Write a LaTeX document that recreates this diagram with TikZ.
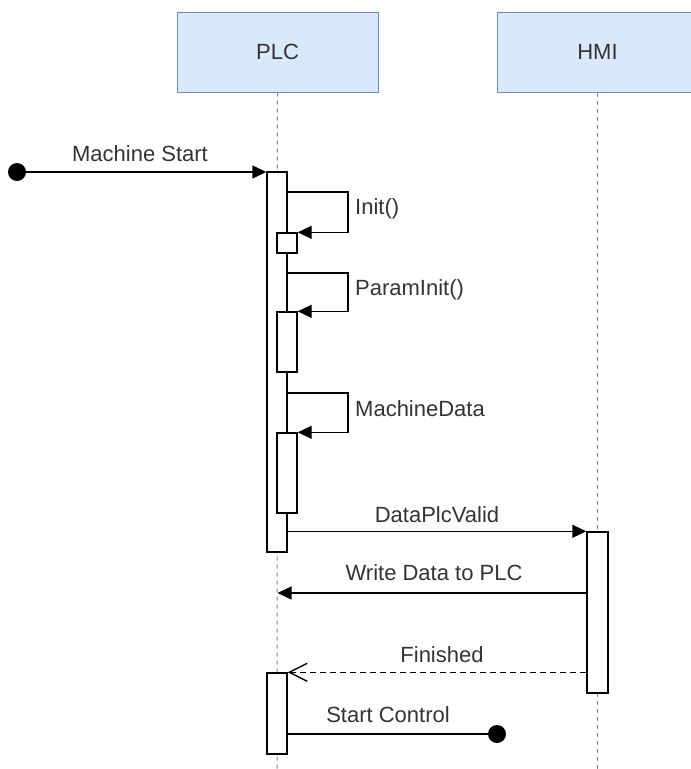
\documentclass[tikz,border=0pt]{standalone}
\usepackage{fontspec}
\setmainfont{Liberation Sans}
\usetikzlibrary{arrows.meta}
\definecolor{boxfill}{HTML}{DAE8FC}
\definecolor{boxline}{HTML}{6C8EBF}
\definecolor{txt}{HTML}{333333}
\definecolor{life}{HTML}{6C8EBF}
\begin{document}
\begin{tikzpicture}[x=1pt,y=-1pt,
  actor/.style={draw=boxline, fill=boxfill, line width=1pt, minimum width=201pt, minimum height=80pt, inner sep=0pt, font=\fontsize{22}{26}\selectfont, text=txt},
  act/.style={draw=black, fill=white, line width=1.4pt, inner sep=0pt, minimum width=20pt},
  lifeline/.style={draw=life, dash pattern=on 4pt off 4pt, line width=1pt},
  msg/.style={draw=black, line width=1.4pt, -{Triangle[length=14pt,width=13pt]}},
  plain/.style={draw=black, line width=1.4pt},
  ret/.style={draw=black, line width=1.4pt, dash pattern=on 6pt off 4pt, -{Straight Barb[length=18pt,width=18pt,line width=1.4pt]}},
  lbl/.style={text=txt, font=\fontsize{22}{26}\selectfont, inner sep=0pt},
  dot/.style={circle, fill=black, minimum size=18pt, inner sep=0pt}]
\useasboundingbox (0,0) rectangle (691,769);
\clip (0,0) rectangle (691,769);

% lifelines
\node[actor] (plc) at (277.5,52) {PLC};
\node[actor] (hmi) at (597.5,52) {HMI};
\coordinate (plcend) at (277,769);
\coordinate (hmiend) at (597.5,769);
\draw[lifeline] (plc.south) -- (plcend);
\draw[lifeline] (hmi.south) -- (hmiend);

% activation bars
\node[act, minimum height=380pt] (a1) at (277,362) {};
\node[act, minimum height=20pt] (b1) at (287,243) {};
\node[act, minimum height=60pt] (b2) at (287,342) {};
\node[act, minimum height=80pt] (b3) at (287,473) {};
\node[act, minimum width=21pt, minimum height=161pt] (h1) at (597.5,612.5) {};
\node[act, minimum height=81pt] (a2) at (277,713.5) {};

% Machine Start
\node[dot] (start) at (17,172) {};
\draw[msg] (start.center) -- (a1.west |- start);
\node[lbl] at (140,154) {Machine Start};

% self calls
\coordinate (l1) at (348,192);
\coordinate (l2) at (348,273);
\coordinate (l3) at (348,393);
\draw[msg] (a1.east |- l1) -- (l1) |- (b1.north east);
\draw[msg] (a1.east |- l2) -- (l2) |- (b2.north east);
\draw[msg] (a1.east |- l3) -- (l3) |- (b3.north east);
\node[lbl, anchor=west] at (355,209) {Init()};
\node[lbl, anchor=west] at (355,290) {ParamInit()};
\node[lbl, anchor=west] at (355,409) {MachineData};

% messages
\draw[msg] (a1.east |- h1.north) -- (h1.north west);
\node[lbl] at (437,515) {DataPlcValid};

\coordinate (wy) at (430,593);
\draw[msg] (h1.west |- wy) -- (plc.south |- wy);
\node[lbl] at (434,573) {Write Data to PLC};

\draw[ret] (h1.west |- a2.north) -- (a2.north east);
\node[lbl] at (442,655) {Finished};

\node[dot] (stop) at (497,734) {};
\draw[plain] (a2.east |- stop) -- (stop.center);
\node[lbl] at (388,715) {Start Control};
\end{tikzpicture}
\end{document}
